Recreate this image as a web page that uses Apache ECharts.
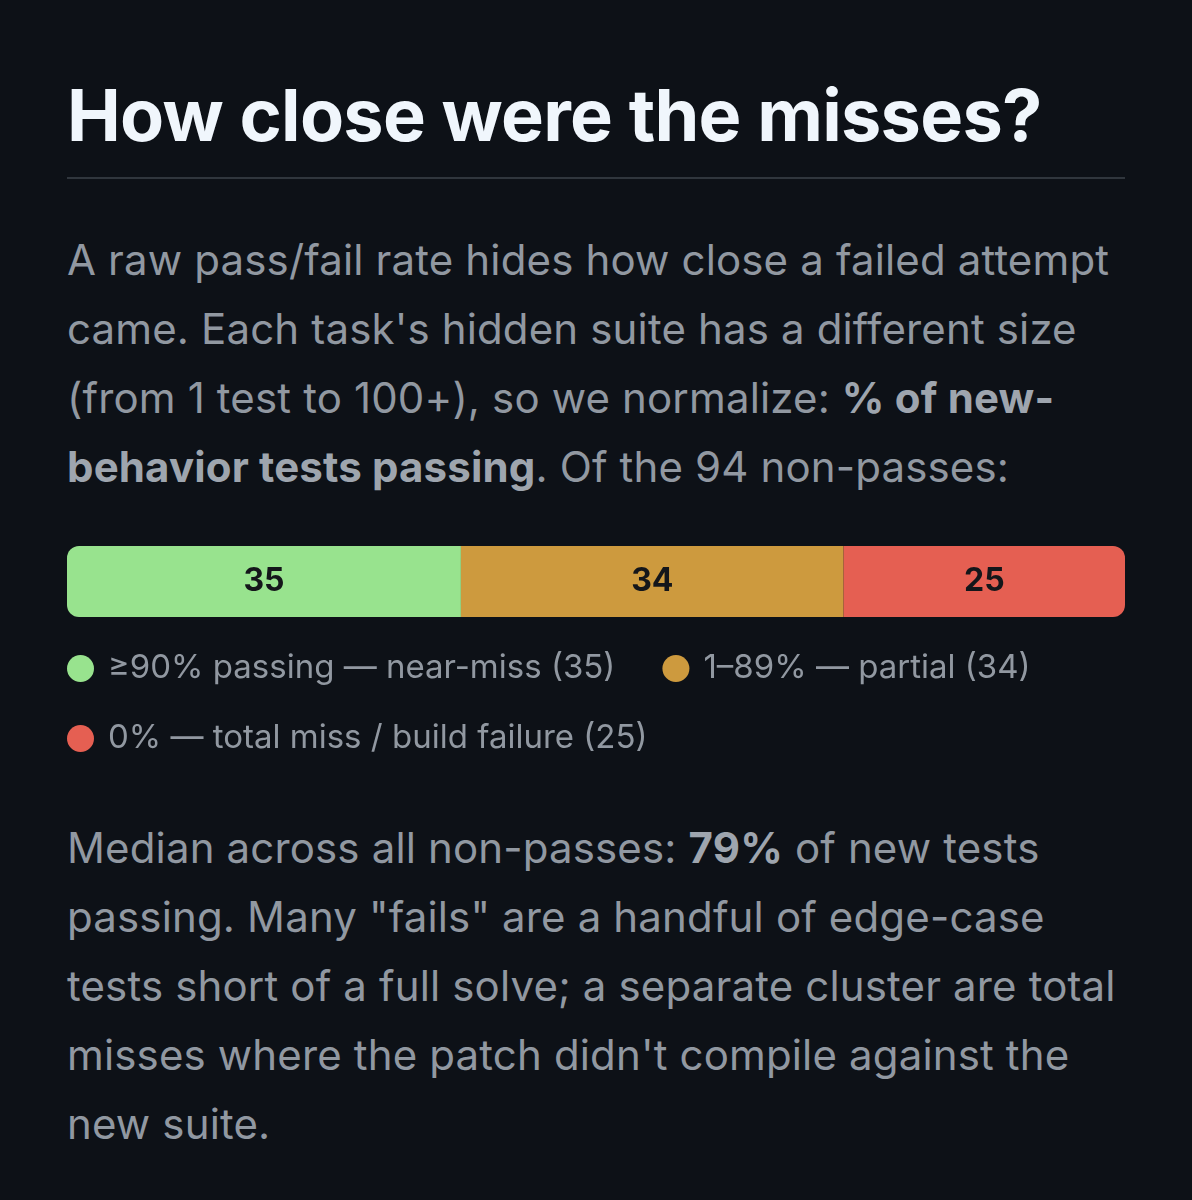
<!DOCTYPE html>
<html>
<head>
<meta charset="utf-8">
<script src="https://cdn.jsdelivr.net/npm/echarts@6/dist/echarts.min.js"></script>
<style>
  html, body { margin: 0; padding: 0; background: #0d1117; }
  body { width: 1192px; height: 1200px; position: relative; overflow: hidden; font-family: Inter, "Noto Sans", sans-serif; }
  .title { position: absolute; left: 67px; top: 79px; font-size: 72px; line-height: 72px; font-weight: 700; color: #f0f6fc; white-space: nowrap; letter-spacing: -0.7px; }
  .rule { position: absolute; left: 67px; top: 177px; width: 1058px; height: 2px; background: #30363d; }
  .para { position: absolute; left: 67px; font-size: 42px; line-height: 69px; letter-spacing: 0.15px; color: #9198a1; white-space: nowrap; }
  .para b { font-weight: 700; color: #9ea5ae; }
  #chart { position: absolute; left: 0; top: 530px; width: 1192px; height: 240px; }
</style>
</head>
<body>
<div class="title">How close were the misses?</div>
<div class="rule"></div>
<div class="para" style="top:225px">A raw pass/fail rate hides how close a failed attempt<br>came. Each task's hidden suite has a different size<br>(from 1 test to 100+), so we normalize: <b>% of new-</b><br><b>behavior tests passing</b>. Of the 94 non-passes:</div>
<div id="chart"></div>
<div class="para" style="top:813px">Median across all non-passes: <b>79%</b> of new tests<br>passing. Many "fails" are a handful of edge-case<br>tests short of a full solve; a separate cluster are total<br>misses where the patch didn't compile against the<br>new suite.</div>
<script>
const categories = ['non-passes'];
const seriesNames = ['≥90% passing — near-miss (35)', '1–89% — partial (34)', '0% — total miss / build failure (25)'];
const nearMiss = [35];
const partial = [34];
const totalMiss = [25];
const total = 94;
const colors = ['#98e38e', '#cd9a3e', '#e55f52'];

const chart = echarts.init(document.getElementById('chart'));
const label = { show: true, position: 'inside', color: '#14161a', fontFamily: 'Inter', fontWeight: 700, fontSize: 32 };
const legendText = { color: '#9198a1', fontFamily: 'Inter', fontSize: 33, padding: [0, 0, 0, 9] };
chart.setOption({
  animation: false,
  backgroundColor: '#0d1117',
  grid: { left: 67, right: 67, top: 16, height: 71 },
  xAxis: { type: 'value', min: 0, max: total, show: false },
  yAxis: { type: 'category', data: categories, show: false },
  legend: [
    { data: [seriesNames[0], seriesNames[1]], left: 67, top: 122, padding: 0, icon: 'circle', itemWidth: 27, itemHeight: 27, itemGap: 47, textStyle: legendText, selectedMode: false },
    { data: [seriesNames[2]], left: 67, top: 192, padding: 0, icon: 'circle', itemWidth: 27, itemHeight: 27, textStyle: legendText, selectedMode: false }
  ],
  series: [
    { name: seriesNames[0], type: 'bar', stack: 'all', data: nearMiss, barWidth: 71, itemStyle: { color: colors[0], borderRadius: [12, 0, 0, 12] }, label: label },
    { name: seriesNames[1], type: 'bar', stack: 'all', data: partial, barWidth: 71, itemStyle: { color: colors[1] }, label: label },
    { name: seriesNames[2], type: 'bar', stack: 'all', data: totalMiss, barWidth: 71, itemStyle: { color: colors[2], borderRadius: [0, 12, 12, 0] }, label: label }
  ]
});
</script>
</body>
</html>
